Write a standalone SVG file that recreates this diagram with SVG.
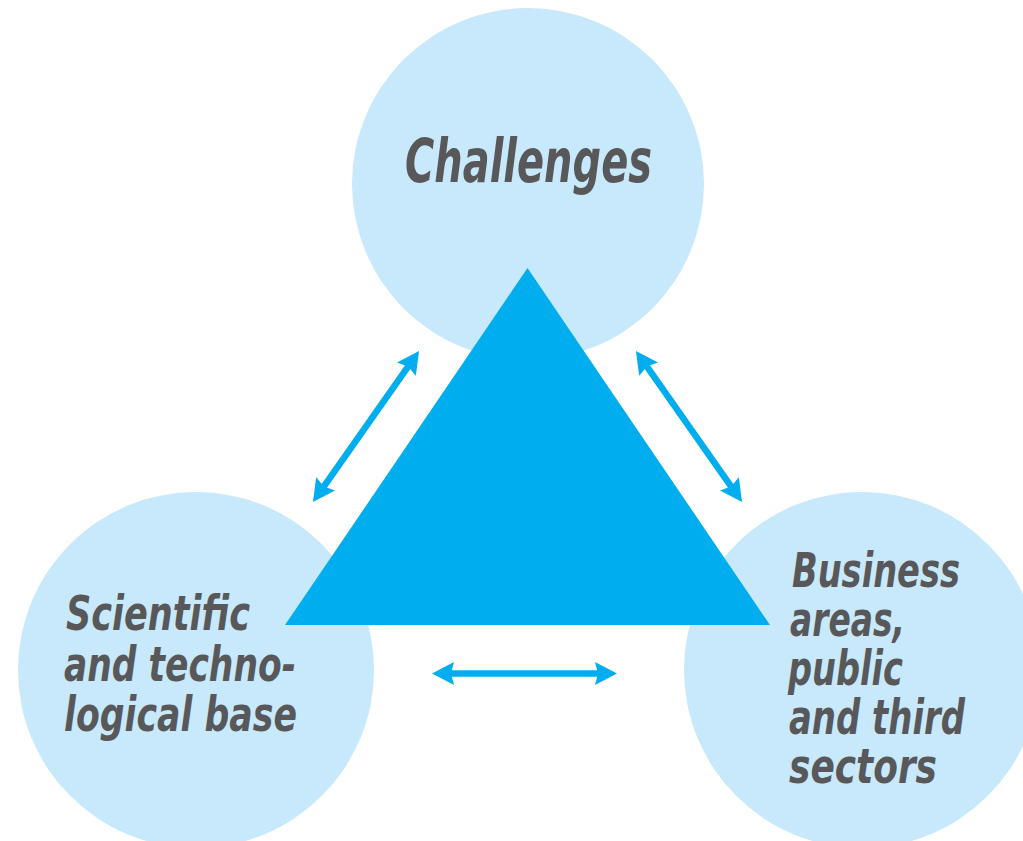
<svg xmlns="http://www.w3.org/2000/svg" width="1023" height="841" viewBox="0 0 1023 841">
  <defs>
    <style>
      .circle { fill: #C7E9FB; }
      .tri { fill: #00AEEF; }
      .conn { stroke: #00AEEF; stroke-width: 6.5; fill: none; }
      .lbl { font-family: "Liberation Sans Narrow", "DejaVu Sans Condensed", "Liberation Sans", sans-serif; font-weight: bold; font-style: italic; fill: #58585A; }
    </style>
    <marker id="ah" markerUnits="userSpaceOnUse" viewBox="-14 -13 26 26" refX="0" refY="0" markerWidth="26" markerHeight="26" orient="auto-start-reverse">
      <path d="M10,0 L-12,-11.5 L-9,0 L-12,11.5 Z" fill="#00AEEF"/>
    </marker>
  </defs>
  <rect width="1023" height="841" fill="#FFFFFF"/>

  <g id="node-challenges">
    <circle class="circle" cx="528" cy="184" r="176"/>
    <text class="lbl" x="405" y="182" font-size="60" textLength="247" lengthAdjust="spacingAndGlyphs">Challenges</text>
  </g>

  <g id="node-science">
    <circle class="circle" cx="196" cy="670" r="178"/>
    <text class="lbl" font-size="48">
      <tspan x="66" y="630" textLength="184" lengthAdjust="spacingAndGlyphs">Scientific</tspan>
      <tspan x="64" y="681" textLength="232" lengthAdjust="spacingAndGlyphs">and techno-</tspan>
      <tspan x="64" y="731" textLength="233" lengthAdjust="spacingAndGlyphs">logical base</tspan>
    </text>
  </g>

  <g id="node-business">
    <circle class="circle" cx="862" cy="670" r="178"/>
    <text class="lbl" font-size="48">
      <tspan x="792" y="587" textLength="168" lengthAdjust="spacingAndGlyphs">Business</tspan>
      <tspan x="790" y="636" textLength="115" lengthAdjust="spacingAndGlyphs">areas,</tspan>
      <tspan x="788" y="685" textLength="115" lengthAdjust="spacingAndGlyphs">public</tspan>
      <tspan x="789" y="734" textLength="176" lengthAdjust="spacingAndGlyphs">and third</tspan>
      <tspan x="789" y="783" textLength="148" lengthAdjust="spacingAndGlyphs">sectors</tspan>
    </text>
  </g>

  <g id="node-triangle">
    <polygon class="tri" points="527.5,268 285,625 770,625"/>
  </g>

  <g id="connectors">
    <line class="conn" x1="318.7" y1="493.8" x2="413.3" y2="359.2" marker-start="url(#ah)" marker-end="url(#ah)"/>
    <line class="conn" x1="641.7" y1="359.2" x2="736.3" y2="493.8" marker-start="url(#ah)" marker-end="url(#ah)"/>
    <line class="conn" x1="442" y1="673.5" x2="607" y2="673.5" marker-start="url(#ah)" marker-end="url(#ah)"/>
  </g>
</svg>
